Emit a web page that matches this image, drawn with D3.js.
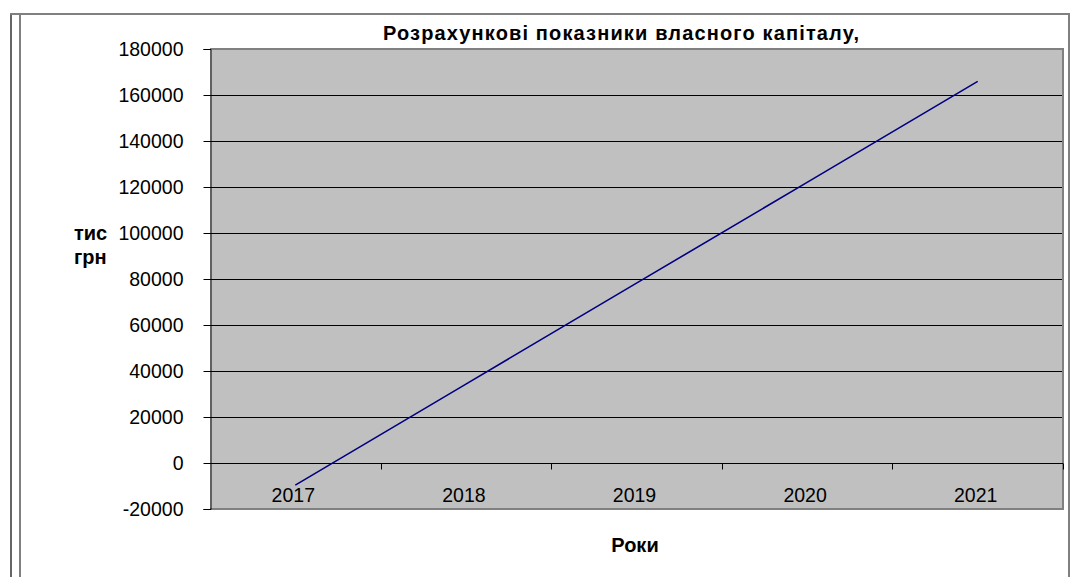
<!DOCTYPE html>
<html>
<head>
<meta charset="utf-8">
<script src="https://cdn.jsdelivr.net/npm/d3@7"></script>
<style>
  html, body { margin: 0; padding: 0; background: #fff; }
  svg { display: block; font-family: Arial, "Liberation Sans", sans-serif; }
</style>
</head>
<body>
<svg id="chart" width="1072" height="577"></svg>
<script>
// Роки та розрахункові показники власного капіталу, тис грн
const years = ["2017", "2018", "2019", "2020", "2021"];
const equity = [-9600, 34300, 78200, 122000, 165900];
const yTicks = [-20000, 0, 20000, 40000, 60000, 80000, 100000, 120000, 140000, 160000, 180000];

const titleText = "Розрахункові показники власного капіталу,";
const yTitle = ["тис", "грн"];
const xTitle = "Роки";

const svg = d3.select("#chart");

// outer frame
svg.append("line").attr("x1", 11).attr("x2", 11).attr("y1", 14).attr("y2", 577)
  .attr("stroke", "#000").attr("stroke-width", 1.2);
svg.append("path").attr("d", "M20,577 V14 H1069 V577")
  .attr("fill", "none").attr("stroke", "#808080").attr("stroke-width", 2);
svg.append("line").attr("x1", 10).attr("x2", 20).attr("y1", 14).attr("y2", 14)
  .attr("stroke", "#808080").attr("stroke-width", 2);

const plot = { left: 210, right: 1063, top: 49, bottom: 509 };

const x = d3.scaleBand().domain(years).range([plot.left, plot.right]).paddingInner(0).paddingOuter(0);
const y = d3.scaleLinear().domain([-20000, 180000]).range([plot.bottom, plot.top]);

// plot background
svg.append("rect")
  .attr("x", plot.left).attr("y", plot.top)
  .attr("width", plot.right - plot.left).attr("height", plot.bottom - plot.top)
  .attr("fill", "#c0c0c0");

// horizontal gridlines
svg.append("g").selectAll("line")
  .data(yTicks.filter(v => v > 0 && v < 180000))
  .join("line")
  .attr("x1", plot.left).attr("x2", plot.right)
  .attr("y1", d => Math.round(y(d)) + 0.5).attr("y2", d => Math.round(y(d)) + 0.5)
  .attr("stroke", "#000").attr("stroke-width", 1);

// plot border (top, right, bottom)
svg.append("path")
  .attr("d", `M${plot.left},${plot.top} H${plot.right} V${plot.bottom} H${plot.left}`)
  .attr("fill", "none").attr("stroke", "#808080").attr("stroke-width", 2);

// y axis
const yAxis = svg.append("g")
  .attr("transform", `translate(${plot.left + 0.5},0)`)
  .call(d3.axisLeft(y).tickValues(yTicks).tickSize(7).tickPadding(20).tickFormat(d => String(d)));
yAxis.select(".domain").attr("stroke", "#000");
yAxis.selectAll(".tick line").attr("stroke", "#000");
yAxis.selectAll(".tick text").attr("font-size", 19.5).attr("fill", "#000")
  .attr("font-family", "Arial, 'Liberation Sans', sans-serif");

// x axis along zero
const xAxis = svg.append("g")
  .attr("transform", `translate(0,${Math.round(y(0)) + 0.5})`)
  .call(d3.axisBottom(x).tickSize(0).tickFormat(""));
xAxis.select(".domain").remove();
xAxis.append("line").attr("x1", plot.left).attr("x2", plot.right).attr("stroke", "#000");
const bounds = years.map(d => x(d)).slice(1).concat([plot.right]);
xAxis.selectAll(".bound").data(bounds).join("line").attr("class", "bound")
  .attr("x1", d => Math.round(d) + 0.5).attr("x2", d => Math.round(d) + 0.5)
  .attr("y1", 0).attr("y2", 6).attr("stroke", "#000");

// category labels
svg.append("g").selectAll("text").data(years).join("text")
  .attr("x", d => x(d) + x.bandwidth() / 2 - 2)
  .attr("y", 502)
  .attr("text-anchor", "middle")
  .attr("font-size", 19.5)
  .attr("fill", "#000")
  .text(d => d);

// series line
const line = d3.line()
  .x((d, i) => x(years[i]) + x.bandwidth() / 2)
  .y(d => y(d));
svg.append("path").datum(equity)
  .attr("d", line)
  .attr("fill", "none")
  .attr("stroke", "#000080")
  .attr("stroke-width", 1.6);

// titles
svg.append("text").attr("x", 383).attr("y", 40)
  .attr("font-size", 20).attr("font-weight", "bold").attr("fill", "#000")
  .attr("textLength", 476).attr("lengthAdjust", "spacing")
  .text(titleText);

svg.append("text").attr("x", 74).attr("y", 0)
  .attr("font-size", 20).attr("font-weight", "bold").attr("fill", "#000")
  .selectAll("tspan").data(yTitle).join("tspan")
  .attr("x", 74).attr("y", (d, i) => 240 + i * 24)
  .text(d => d);

svg.append("text").attr("x", 635).attr("y", 552).attr("text-anchor", "middle")
  .attr("font-size", 20).attr("font-weight", "bold").attr("fill", "#000")
  .text(xTitle);
</script>
</body>
</html>
